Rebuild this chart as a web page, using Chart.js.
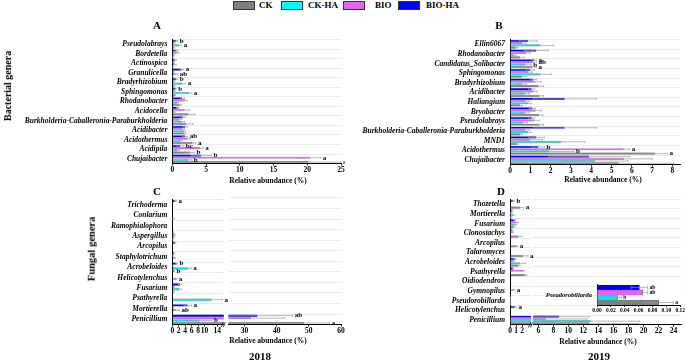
<!DOCTYPE html>
<html lang="en">
<head>
<meta charset="UTF-8" />
<title>Relative abundance of bacterial and fungal genera</title>
<script src="https://cdn.jsdelivr.net/npm/chart.js"></script>
<style>
  body { margin: 0; width: 685px; height: 361px; position: relative; overflow: hidden; background: #fff;
         font-family: "Liberation Serif", "Times New Roman", serif; font-weight: bold; color: #000; }
  canvas { position: absolute; }
  .t { position: absolute; white-space: nowrap; transform: translate(-50%, -50%); line-height: 1; }
  .rot { transform: translate(-50%, -50%) rotate(-90deg); }
  .box { position: absolute; top: 1px; width: 20px; height: 7px; border: 0.7px solid #333; }
  .lg { position: absolute; top: 1px; font-size: 9px; line-height: 9px; }
</style>
</head>
<body>

<div class="box" style="left:233px;background:#808080"></div><div class="lg" style="left:259px">CK</div>
<div class="box" style="left:281px;background:#00ffff"></div><div class="lg" style="left:308px">CK-HA</div>
<div class="box" style="left:343px;background:#e066ee"></div><div class="lg" style="left:375px">BIO</div>
<div class="box" style="left:398px;background:#0000ff"></div><div class="lg" style="left:426px">BIO-HA</div>

<canvas id="chartA" width="345" height="148" style="left:0;top:30px"></canvas>
<canvas id="chartB" width="340" height="149" style="left:345px;top:30px"></canvas>
<canvas id="chartC2" width="119" height="149" style="left:226px;top:190px"></canvas>
<canvas id="chartC1" width="232" height="149" style="left:0;top:190px"></canvas>
<canvas id="chartD2" width="153" height="149" style="left:532px;top:190px"></canvas>
<canvas id="chartD1" width="192" height="149" style="left:345px;top:190px"></canvas>
<canvas id="chartInset" width="145" height="38" style="left:540px;top:276px"></canvas>

<div class="t" style="left:157px;top:25px;font-size:11px">A</div>
<div class="t" style="left:499px;top:25px;font-size:11px">B</div>
<div class="t" style="left:157px;top:191px;font-size:11px">C</div>
<div class="t" style="left:501px;top:191px;font-size:11px">D</div>
<div class="t" style="left:268px;top:181px;font-size:7.5px">Relative abundance (%)</div>
<div class="t" style="left:603px;top:180px;font-size:7.5px">Relative abundance (%)</div>
<div class="t" style="left:268px;top:341px;font-size:7.5px">Relative abundance (%)</div>
<div class="t" style="left:598px;top:342px;font-size:7.5px">Relative abundance (%)</div>
<div class="t" style="left:260px;top:356px;font-size:11px">2018</div>
<div class="t" style="left:599px;top:356px;font-size:11px">2019</div>
<div class="t rot" style="left:8px;top:86px;font-size:10px">Bacterial genera</div>
<div class="t rot" style="left:92px;top:249px;font-size:10.5px">Fungal genera</div>

<script>
  // series order inside each genus, top to bottom
  const groups = ['BIO-HA', 'BIO', 'CK-HA', 'CK'];
  const fills = ['#0000ff', '#e066ee', '#00e8e8', '#808080'];
  const edges = ['#000090', '#8a3a99', '#159090', '#404040'];

  // A: bacteria 2018
  const aLabels = ['Pseudolabrays', 'Bordetella', 'Actinospica', 'Granulicella', 'Bradyrhizobium', 'Sphingomonas',
    'Rhodanobacter', 'Acidocella', 'Burkholderia-Caballeronia-Paraburkholderia', 'Acidibacter', 'Acidothermus',
    'Acidipila', 'Chujaibacter'];
  const aBioHA = [0.6, 0.6, 0.4, 1.4, 0.6, 0.5, 1.5, 0.8, 1.6, 1.9, 1.9, 1.2, 4.3];
  const aBio   = [0.3, 0.7, 0.2, 0.2, 0.3, 0.3, 1.9, 1.8, 1.0, 1.5, 2.3, 4.1, 20.4];
  const aCkHA  = [1.0, 0.2, 0.4, 0.5, 1.5, 2.5, 0.7, 0.3, 1.4, 1.7, 1.2, 0.8, 2.3];
  const aCk    = [0.2, 0.1, 0.1, 0.1, 0.3, 0.4, 1.1, 2.4, 2.1, 1.8, 3.0, 2.6, 20.2];
  const aErrBioHA = [0.2, 0.2, 0.2, 0.3, 0.2, 0.1, 0.3, 0.2, 0.3, 0.3, 0.4, 0.5, 1.5];
  const aErrBio   = [0.1, 0.3, 0.1, 0.1, 0.1, 0.1, 0.3, 0.8, 0.3, 0.3, 0.3, 0.5, 1.6];
  const aErrCkHA  = [0.4, 0.1, 0.2, 0.3, 0.5, 0.4, 0.2, 0.1, 0.4, 0.2, 0.3, 0.3, 0.6];
  const aErrCk    = [0.1, 0.05, 0.05, 0.05, 0.1, 0.1, 0.3, 1.0, 1.0, 0.2, 0.5, 0.7, 4.8];
  const aSigBioHA = ['b', '', '', 'a', 'b', 'b', '', '', '', '', 'ab', 'bc', 'b'];
  const aSigBio   = ['', '', '', '', '', '', '', '', '', '', '', 'a', 'a'];
  const aSigCkHA  = ['a', '', '', 'ab', 'a', 'a', '', '', '', '', '', '', 'b'];
  const aSigCk    = ['', '', '', '', '', '', '', '', '', '', 'a', 'b', 'a'];
  const aTicks = [0, 5, 10, 15, 20, 25];

  // B: bacteria 2019
  const bLabels = ['Ellin6067', 'Rhodanobacter', 'Candidatus_Solibacter', 'Sphingomonas', 'Bradyrhizobium', 'Acidibacter',
    'Haliangium', 'Bryobacter', 'Pseudolabrays', 'Burkholderia-Caballeronia-Paraburkholderia', 'MND1',
    'Acidothermus', 'Chujaibacter'];
  const bBioHA = [0.9, 1.3, 1.2, 1.0, 1.15, 1.07, 2.7, 1.1, 1.07, 2.7, 1.3, 1.4, 3.9];
  const bBio   = [0.6, 0.8, 1.1, 0.9, 1.25, 1.15, 0.75, 1.25, 1.2, 0.75, 1.0, 5.6, 5.6];
  const bCkHA  = [1.5, 0.2, 0.75, 1.5, 0.6, 0.75, 0.9, 0.75, 0.65, 0.9, 2.5, 1.95, 4.2];
  const bCk    = [0.3, 0.5, 1.1, 0.6, 1.4, 1.45, 0.5, 1.43, 1.45, 0.5, 0.35, 7.15, 5.35];
  const bErrBioHA = [0.45, 0.6, 0.1, 0.2, 0.15, 0.15, 1.55, 0.15, 0.15, 1.55, 0.4, 0.3, 2.0];
  const bErrBio   = [0.2, 0.2, 0.2, 0.2, 0.3, 0.2, 0.2, 0.3, 0.25, 0.2, 0.6, 0.3, 1.4];
  const bErrCkHA  = [0.65, 0.1, 0.3, 0.55, 0.2, 0.2, 0.15, 0.2, 0.2, 0.15, 1.2, 1.2, 1.6];
  const bErrCk    = [0.1, 0.2, 0.2, 0.2, 0.25, 0.2, 0.1, 0.2, 0.2, 0.1, 0.05, 0.6, 2.7];
  const bSigBioHA = ['', '', 'a', '', '', '', '', '', '', '', '', 'b', ''];
  const bSigBio   = ['', '', 'ab', '', '', '', '', '', '', '', '', 'a', ''];
  const bSigCkHA  = ['', '', 'b', '', '', '', '', '', '', '', '', 'b', ''];
  const bSigCk    = ['', '', 'a', '', '', '', '', '', '', '', '', 'a', ''];
  const bTicks = [0, 1, 2, 3, 4, 5, 6, 7, 8];

  // C: fungi 2018 (broken axis 0-16 | 25-60)
  const cLabels = ['Trichoderma', 'Conlarium', 'Ramophialophora', 'Aspergillus', 'Arcopilus', 'Staphylotrichum',
    'Acrobeloides', 'Helicotylenchus', 'Fusarium', 'Psathyrella', 'Mortierella', 'Penicillium'];
  const cBioHA = [1.0, 0, 0, 0.3, 0.8, 0.5, 1.3, 0, 2.4, 0, 4.8, 34];
  const cBio   = [0, 0, 0, 0.6, 0, 0.2, 0.2, 0, 0.5, 0.1, 0.3, 32];
  const cCkHA  = [0.1, 0.1, 0, 0.4, 0, 0.7, 5.0, 1.1, 2.2, 12.2, 1.3, 8.5];
  const cCk    = [0, 0.3, 0.1, 0.2, 0.1, 0.1, 0.5, 0, 0.4, 0.1, 0, 48.5];
  const cErrBioHA = [0.3, 0, 0, 0.1, 0.3, 0.2, 0.3, 0, 0.5, 0, 1.2, 11];
  const cErrBio   = [0, 0, 0, 0.3, 0, 0.1, 0.1, 0, 0.2, 0, 0.1, 10.5];
  const cErrCkHA  = [0, 0, 0, 0.2, 0, 0.3, 0.9, 0.3, 0.6, 3.4, 0.9, 3.8];
  const cErrCk    = [0, 0.3, 0, 0.1, 0, 0, 0.2, 0, 0.2, 0, 0, 8];
  const cSigBioHA = ['a', '', '', '', '', '', 'b', '', '', '', 'a', 'ab'];
  const cSigBio   = ['', '', '', '', '', '', '', '', '', '', '', ''];
  const cSigCkHA  = ['', '', '', '', '', '', 'a', 'a', '', 'a', 'ab', 'b'];
  const cSigCk    = ['', '', '', '', '', '', 'b', '', '', '', '', 'a'];
  const cTicksLow = [0, 2, 4, 6, 8, 10, 14];
  const cTicksHigh = [30, 40, 50, 60];

  // D: fungi 2019 (broken axis 0-3.5 | 5.3-25)
  const dLabels = ['Thozetella', 'Mortierella', 'Fusarium', 'Clonostachys', 'Arcopilus', 'Talaromyces',
    'Acrobeloides', 'Psathyrella', 'Oidiodendron', 'Gymnopilus', 'Pseudorobillarda', 'Helicotylenchus', 'Penicillium'];
  const dBioHA = [0.55, 0.35, 0.8, 0.3, 0.1, 0, 0.8, 0.5, 0.05, 0.1, 0.061, 0.8, 8.8];
  const dBio   = [0, 0.2, 1.1, 0.45, 0, 0, 0.5, 2.2, 0.05, 0.6, 0.066, 0, 7.0];
  const dCkHA  = [0.1, 0.5, 0.8, 0, 0, 0.1, 1.7, 0.1, 0.05, 0, 0.030, 0.1, 13.0];
  const dCk    = [1.7, 0.2, 0.6, 1.4, 1.1, 2.2, 1.4, 2.5, 0.05, 0.05, 0.089, 0, 12.8];
  const dErrBioHA = [0.2, 0.1, 0.2, 0.1, 0, 0, 0.2, 0.1, 0, 0, 0.012, 0.3, 4.0];
  const dErrBio   = [0, 0.1, 0.3, 0.1, 0, 0, 0.2, 0.2, 0, 0.2, 0.007, 0, 5.5];
  const dErrCkHA  = [0, 0.2, 0.3, 0, 0, 0, 0.9, 0, 0, 0, 0.005, 0, 6.5];
  const dErrCk    = [0.6, 0.1, 0.2, 0.6, 0.2, 0.8, 0.3, 0.3, 0, 0, 0.021, 0, 6.6];
  const dSigBioHA = ['b', '', '', '', '', '', '', '', '', '', 'ab', 'a', ''];
  const dSigBio   = ['', '', '', '', '', '', '', '', '', 'a', 'ab', '', ''];
  const dSigCkHA  = ['', '', '', '', '', '', '', '', '', '', 'b', '', ''];
  const dSigCk    = ['a', '', '', '', 'a', 'a', '', '', '', '', 'a', '', ''];
  const dTicksLow = [0, 1, 2];
  const dTicksHigh = [6, 8, 10, 12, 14, 16, 18, 20, 22, 24];
  const insetTicks = [0, 0.02, 0.04, 0.06, 0.08, 0.10, 0.12];

  const serif = '"Liberation Serif", "Times New Roman", serif';

  // error bars + significance letters, read from dataset.errs / dataset.sig
  const errorBars = {
    id: 'errorBars',
    afterDatasetsDraw(chart) {
      const { ctx, chartArea: a, scales: { x } } = chart;
      const fs = chart.options.sigSize || 7;
      chart.data.datasets.forEach((ds, i) => {
        chart.getDatasetMeta(i).data.forEach((bar, j) => {
          const v = ds.data[j], e = ds.errs[j] || 0;
          const h = Math.max(bar.height * 0.8, 1.6);
          if (e > 0) {
            const x0 = x.getPixelForValue(v - e), x1 = x.getPixelForValue(v + e);
            ctx.save();
            ctx.beginPath();
            ctx.rect(a.left, a.top, a.right - a.left + 1, a.bottom - a.top);
            ctx.clip();
            ctx.strokeStyle = '#9a9a9a';
            ctx.lineWidth = 0.7;
            ctx.beginPath();
            ctx.moveTo(x0, bar.y); ctx.lineTo(x1, bar.y);
            ctx.moveTo(x1, bar.y - h / 2); ctx.lineTo(x1, bar.y + h / 2);
            ctx.moveTo(x0, bar.y - h / 2); ctx.lineTo(x0, bar.y + h / 2);
            ctx.stroke();
            ctx.restore();
          }
          const s = ds.sig[j];
          const end = v + e;
          if (s && end >= x.min && end <= x.max) {
            ctx.save();
            ctx.fillStyle = '#000';
            ctx.font = 'bold ' + fs + 'px ' + serif;
            ctx.textBaseline = 'middle';
            ctx.fillText(s, x.getPixelForValue(end) + 2, bar.y);
            ctx.restore();
          }
        });
      });
    }
  };

  // white plot area (used by the inset) and axis break marks
  const extras = {
    id: 'extras',
    beforeDraw(chart) {
      if (!chart.options.whiteArea) return;
      const { ctx, chartArea: a } = chart;
      ctx.save();
      ctx.fillStyle = '#fff';
      ctx.fillRect(a.left, a.top, a.right - a.left, a.bottom - a.top);
      ctx.restore();
    },
    afterDraw(chart) {
      if (!chart.options.breakMark) return;
      const { ctx, chartArea: a } = chart;
      ctx.save();
      ctx.strokeStyle = '#000';
      ctx.lineWidth = 0.8;
      ctx.beginPath();
      [a.right - 1.5, a.right + 0.5].forEach(bx => {
        ctx.moveTo(bx - 1, a.bottom + 2.5);
        ctx.lineTo(bx + 1, a.bottom - 2.5);
      });
      ctx.stroke();
      ctx.restore();
    }
  };

  function makePanel(id, p) {
    const datasets = groups.map((g, i) => ({
      label: g,
      data: p.vals[i],
      errs: p.errs[i],
      sig: p.sig[i],
      backgroundColor: fills[i],
      borderColor: edges[i],
      borderWidth: 0.4,
      categoryPercentage: p.catPct || 0.92,
      barPercentage: 1
    }));
    return new Chart(document.getElementById(id), {
      type: 'bar',
      data: { labels: p.labels, datasets },
      options: {
        indexAxis: 'y',
        responsive: false,
        animation: false,
        sigSize: p.sigSize,
        whiteArea: p.whiteArea,
        breakMark: p.breakMark,
        layout: { padding: { left: 0, right: p.padR, top: p.padT, bottom: 0 } },
        plugins: { legend: { display: false }, tooltip: { enabled: false } },
        scales: {
          x: {
            type: 'linear',
            min: p.min,
            max: p.max,
            afterBuildTicks: s => { s.ticks = p.ticks.map(v => ({ value: v })); },
            afterFit: s => { s.height = p.xH; },
            grid: { drawOnChartArea: false, drawTicks: true, tickLength: 2, color: '#000', lineWidth: 0.8 },
            border: { display: true, color: '#000', width: 1 },
            ticks: {
              color: '#000', padding: 0, autoSkip: false, maxRotation: 0,
              font: { family: serif, size: p.tickSize || 7.5, weight: 'bold' },
              callback: v => p.fmt ? p.fmt(v) : v
            }
          },
          y: {
            afterFit: s => { s.width = p.yW; },
            grid: { display: p.grid !== false, color: '#e2e2e2', lineWidth: 0.7, drawTicks: false },
            border: { display: p.yLine !== false, color: '#000', width: 1 },
            ticks: {
              display: p.yLabels !== false, color: '#000', padding: 5, autoSkip: false,
              font: { family: serif, size: p.labelSize || 7.5, style: 'italic', weight: 'bold' }
            }
          }
        }
      },
      plugins: [extras, errorBars]
    });
  }

  makePanel('chartA', {
    labels: aLabels, vals: [aBioHA, aBio, aCkHA, aCk],
    errs: [aErrBioHA, aErrBio, aErrCkHA, aErrCk], sig: [aSigBioHA, aSigBio, aSigCkHA, aSigCk],
    min: 0, max: 25, ticks: aTicks, yW: 172.3, padR: 4, padT: 6.4, xH: 14.4
  });

  makePanel('chartB', {
    labels: bLabels, vals: [bBioHA, bBio, bCkHA, bCk],
    errs: [bErrBioHA, bErrBio, bErrCkHA, bErrCk], sig: [bSigBioHA, bSigBio, bSigCkHA, bSigCk],
    min: 0, max: 8.37, ticks: bTicks, yW: 165, padR: 5, padT: 8.4, xH: 14.2
  });

  const cVals = [cBioHA, cBio, cCkHA, cCk];
  const cErrs = [cErrBioHA, cErrBio, cErrCkHA, cErrCk];
  const cSigs = [cSigBioHA, cSigBio, cSigCkHA, cSigCk];
  makePanel('chartC1', {
    labels: cLabels, vals: cVals, errs: cErrs, sig: cSigs,
    min: 0, max: 16, ticks: cTicksLow, yW: 172.3, padR: 8.2, padT: 8, xH: 14.4, breakMark: true
  });
  makePanel('chartC2', {
    labels: cLabels, vals: cVals, errs: cErrs, sig: cSigs,
    min: 25, max: 60, ticks: cTicksHigh, yW: 2.5, padR: 4, padT: 8, xH: 14.4, yLabels: false, yLine: false
  });

  const dVals = [dBioHA, dBio, dCkHA, dCk];
  const dErrs = [dErrBioHA, dErrBio, dErrCkHA, dErrCk];
  const dSigs = [dSigBioHA, dSigBio, dSigCkHA, dSigCk];
  const noSig = dSigs.map(s => s.map((l, j) => dLabels[j] === 'Pseudorobillarda' ? '' : l));
  makePanel('chartD1', {
    labels: dLabels, vals: dVals, errs: dErrs, sig: noSig,
    min: 0, max: 3.5, ticks: dTicksLow, yW: 165, padR: 6, padT: 9.2, xH: 14.1, breakMark: true
  });
  makePanel('chartD2', {
    labels: dLabels, vals: dVals, errs: dErrs, sig: noSig,
    min: 5.3, max: 25, ticks: dTicksHigh, yW: 1, padR: 4, padT: 9.2, xH: 14.1, yLabels: false, yLine: false
  });

  // inset: Pseudorobillarda on its own scale
  const k = dLabels.indexOf('Pseudorobillarda');
  makePanel('chartInset', {
    labels: [dLabels[k]], vals: dVals.map(s => [s[k]]), errs: dErrs.map(s => [s[k]]), sig: dSigs.map(s => [s[k]]),
    min: 0, max: 0.12, ticks: insetTicks, yW: 57, padR: 4, padT: 5.5, xH: 9, catPct: 1,
    grid: false, whiteArea: true, sigSize: 5.5, tickSize: 5.5, labelSize: 6.5, fmt: v => v.toFixed(2)
  });
</script>
</body>
</html>
